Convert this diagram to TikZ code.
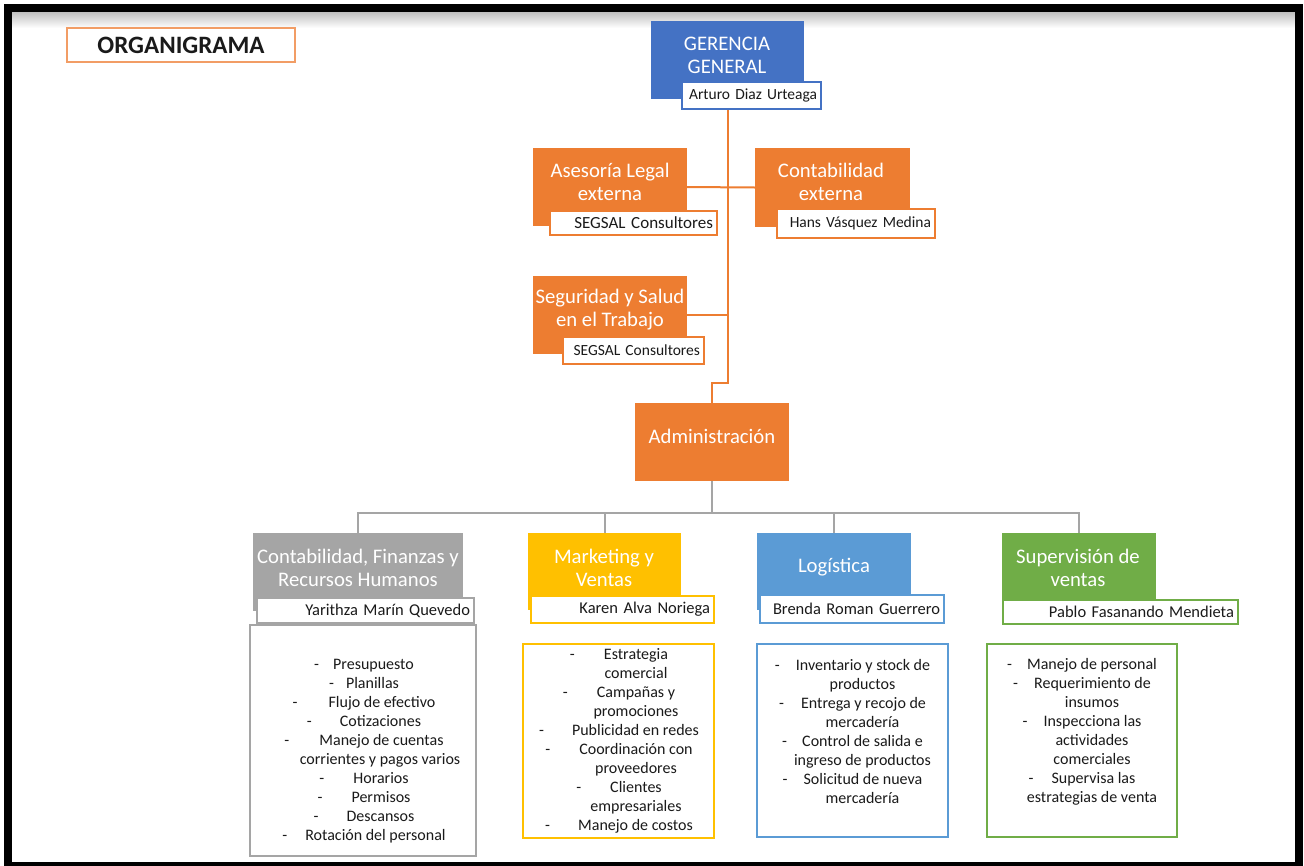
\documentclass[tikz,border=0pt]{standalone}
\usepackage{fontspec}
\setmainfont{Carlito}
\usetikzlibrary{backgrounds}
\definecolor{cblue}{HTML}{4472C4}
\definecolor{corange}{HTML}{ED7D31}
\definecolor{cgray}{HTML}{A5A5A5}
\definecolor{cyellow}{HTML}{FFC000}
\definecolor{clblue}{HTML}{5B9BD5}
\definecolor{cgreen}{HTML}{70AD47}
\definecolor{ctext}{HTML}{1A1A1A}
\newcommand\dashit[2]{\makebox[#1pt][l]{-}#2}
\begin{document}
\begin{tikzpicture}[x=1pt,y=-1pt,
  hbox/.style={rectangle, inner sep=0pt, outer sep=0pt, draw=none},
  htext/.style={align=center, text=white, inner sep=0pt, font=\fontsize{20.7}{23}\selectfont},
  nbox/.style={rectangle, fill=white, line width=1.3pt, inner xsep=4pt, inner ysep=0pt, outer sep=0pt, align=right, text=ctext, font=\fontsize{15.5}{18}\selectfont},
  bname/.style={font=\fontsize{16.5}{18}\selectfont},
  lbox/.style={rectangle, fill=white, line width=1.3pt, inner sep=0pt},
  ltext/.style={align=center, inner sep=0pt, text=ctext, font=\fontsize{16}{19}\selectfont},
  oline/.style={draw=corange, line width=2pt},
  gline/.style={draw=cgray, line width=2pt}]
\useasboundingbox (0,0) rectangle (1304,865);
\clip (0,0) rectangle (1304,865);
% frame
\shade[top color=black!25, bottom color=white] (12,12) rectangle (1295,28);
\draw[line width=8pt] (8,8) rectangle (1299,866);
% title
\node[draw=corange!75, line width=1.3pt, minimum width=228pt, minimum height=34pt, inner sep=0pt, text=ctext, font=\bfseries\fontsize{25}{28}\selectfont] (title) at (181,45) {ORGANIGRAMA};
% top level
\node[hbox, fill=cblue, minimum width=153pt, minimum height=78pt] (gg) at (727.5,60) {};
\node[htext] (ggt) at (727,55) {GERENCIA\\GENERAL};
\node[nbox, draw=cblue, text width=131pt, minimum height=27pt] (arturo) at (751.5,95.5) {Arturo Diaz Urteaga};
% staff
\node[hbox, fill=corange, minimum width=154pt, minimum height=78pt] (ase) at (610,187) {};
\node[htext] (aset) at (610,182) {Asesoría Legal\\externa};
\node[nbox, draw=corange, text width=159pt, minimum height=24pt, font=\fontsize{17}{19}\selectfont] (segsal1) at (633.5,223) {SEGSAL Consultores};
\node[hbox, fill=corange, minimum width=155pt, minimum height=79pt] (cont) at (832.5,187.5) {};
\node[htext] (contt) at (831,182) {Contabilidad\\externa};
\node[nbox, draw=corange, text width=150pt, minimum height=29pt] (hans) at (856,223.5) {Hans Vásquez Medina};
\node[hbox, fill=corange, minimum width=154pt, minimum height=78pt] (seg) at (610,315) {};
\node[htext] (segt) at (610,310) {Seguridad y Salud\\en el Trabajo};
\node[nbox, draw=corange, text width=133pt, minimum height=27pt] (segsal2) at (633.5,350.5) {SEGSAL Consultores};
\node[hbox, fill=corange, minimum width=154pt, minimum height=78pt] (admin) at (712,442) {};
\node[htext] (admint) at (712,436) {Administración};
% departments
\node[hbox, fill=cgray, minimum width=210pt, minimum height=78pt] (cf) at (358,572) {};
\node[htext] (cft) at (358,568) {Contabilidad, Finanzas y\\Recursos Humanos};
\node[nbox, bname, draw=cgray, text width=209pt, minimum height=25pt] (yar) at (365.5,610.5) {Yarithza Marín Quevedo};
\node[hbox, fill=cyellow, minimum width=153pt, minimum height=77pt] (mk) at (604.5,571.5) {};
\node[htext] (mkt) at (604,568) {Marketing y\\Ventas};
\node[nbox, bname, draw=cyellow, text width=175pt, minimum height=27pt] (karen) at (622.5,609.5) {Karen Alva Noriega};
\node[hbox, fill=clblue, minimum width=154pt, minimum height=77pt] (lg) at (834,571.5) {};
\node[htext] (lgt) at (834,567) {Logística};
\node[nbox, bname, draw=clblue, text width=176pt, minimum height=28pt] (brenda) at (852,609) {Brenda Roman Guerrero};
\node[hbox, fill=cgreen, minimum width=154pt, minimum height=77pt] (sv) at (1079,571.5) {};
\node[htext] (svt) at (1078,568) {Supervisión de\\ventas};
\node[nbox, bname, draw=cgreen, text width=227pt, minimum height=24pt] (pablo) at (1120.5,612) {Pablo Fasanando Mendieta};
% lists
\node[lbox, draw=cgray, minimum width=226pt, minimum height=231pt] (cfl) at (363,740.5) {};
\node[ltext] (cflt) at (364,751) {\dashit{19}{Presupuesto}\\
\dashit{17}{Planillas}\\
\dashit{36}{Flujo de efectivo}\\
\dashit{33}{Cotizaciones}\\
\dashit{35}{Manejo de cuentas}\\
\hspace*{32pt}corrientes y pagos varios\\
\dashit{34}{Horarios}\\
\dashit{34}{Permisos}\\
\dashit{33}{Descansos}\\
\dashit{23}{Rotación del personal}};
\node[lbox, draw=cyellow, minimum width=191pt, minimum height=194pt] (mkl) at (618.5,741) {};
\node[ltext] (mklt) at (619,741) {\dashit{34}{Estrategia}\\
\hspace*{34pt}comercial\\
\dashit{34}{Campañas y}\\
\hspace*{34pt}promociones\\
\dashit{33}{Publicidad en redes}\\
\dashit{34}{Coordinación con}\\
\hspace*{34pt}proveedores\\
\dashit{34}{Clientes}\\
\hspace*{34pt}empresariales\\
\dashit{33}{Manejo de costos}};
\node[lbox, draw=clblue, minimum width=191pt, minimum height=193pt] (lgl) at (852.5,740.5) {};
\node[ltext] (lglt) at (852.5,731.5) {\dashit{21}{Inventario y stock de}\\
\hspace*{20pt}productos\\
\dashit{22}{Entrega y recojo de}\\
\hspace*{20pt}mercadería\\
\dashit{20}{Control de salida e}\\
\hspace*{20pt}ingreso de productos\\
\dashit{21}{Solicitud de nueva}\\
\hspace*{20pt}mercadería};
\node[lbox, draw=cgreen, minimum width=190pt, minimum height=193pt] (svl) at (1082,740.5) {};
\node[ltext] (svlt) at (1082,731.5) {\dashit{20}{Manejo de personal}\\
\dashit{21}{Requerimiento de}\\
\hspace*{20pt}insumos\\
\dashit{21}{Inspecciona las}\\
\hspace*{20pt}actividades\\
\hspace*{20pt}comerciales\\
\dashit{23}{Supervisa las}\\
\hspace*{20pt}estrategias de venta};
% connectors
\coordinate (jog) at (728,383);
\coordinate (bus) at (712,513);
\begin{pgfonlayer}{background}
\draw[oline] (gg.south) -- (gg.south |- jog) -| (admin.north);
\draw[oline] (ase.east) -- (cont.west);
\draw[oline] (seg.east) -- (seg.east -| gg.south);
\draw[gline] (admin.south) -- (bus);
\draw[gline] (cf.north) -- (cf.north |- bus) -- (sv.north |- bus) -- (sv.north);
\draw[gline] (mk.north) -- (mk.north |- bus);
\draw[gline] (lg.north) -- (lg.north |- bus);
\end{pgfonlayer}
\end{tikzpicture}
\end{document}
